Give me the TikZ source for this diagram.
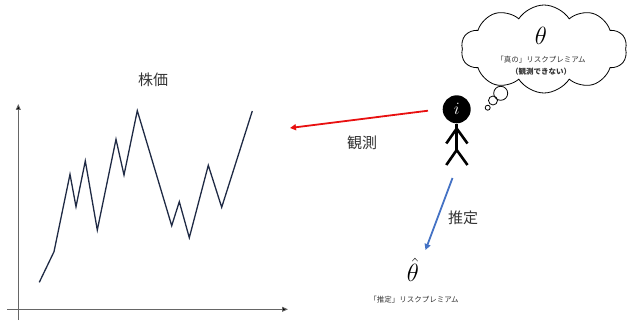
\documentclass[tikz,border=0pt]{standalone}
\usepackage{fontspec}
\newfontfamily\jp{Noto Sans CJK JP}
\usetikzlibrary{arrows.meta,shapes.symbols}
\definecolor{navy}{HTML}{1F2A44}
\definecolor{obsred}{HTML}{E81010}
\definecolor{estblue}{HTML}{4472C4}
\tikzset{
  axis/.style={draw=black!60, line width=0.9pt, -{Triangle[length=6pt,width=5pt,fill=black]}},
  price/.style={draw=navy, line width=1.3pt, line join=miter},
  label/.style={font=\jp\fontsize{15}{15}\selectfont, text=black!80, inner sep=0pt},
  small/.style={font=\jp\fontsize{7.5}{8}\selectfont, text=black!80, inner sep=0pt},
  limb/.style={line width=2.6pt, line cap=butt},
  bubble/.style={circle, draw, line width=0.8pt, inner sep=0pt},
}
\begin{document}
\begin{tikzpicture}[x=1pt,y=-1pt]
\useasboundingbox (0,0) rectangle (627,321);

% axes
\coordinate (yo) at (18.3,320);
\coordinate (yt) at (18.3,104);
\coordinate (xo) at (7,309.3);
\coordinate (xt) at (288,309.3);
\draw[axis] (yo) -- (yt);
\draw[axis] (xo) -- (xt);

% price path
\draw[price] (39.3,282.3) -- (54,251.7) -- (70,174.3) -- (76,206.7) -- (85.3,161)
  -- (97.3,230) -- (116,139.3) -- (124,175) -- (137.3,110.7) -- (171.7,225.7)
  -- (179.3,201.7) -- (189.3,237.7) -- (208.3,165.3) -- (221.7,207.3) -- (252.3,111);
\node[label] (kabuka) at (153,80) {株価};

% observer
\node[circle, fill=black, minimum size=28pt, inner sep=0pt, text=white,
      font=\fontsize{16}{16}\selectfont] (head) at (456.7,109.3) {$i$};
\coordinate (hip) at (456.7,150);
\coordinate (lhand) at (446.3,143.5);
\coordinate (rhand) at (467.5,143.5);
\coordinate (lfoot) at (446.3,165);
\coordinate (rfoot) at (467.5,165);
\coordinate (shoulder) at (456.7,128.5);
\draw[limb] (head.south) -- (hip);
\draw[limb, line join=miter] (lhand) -- (shoulder) -- (rhand);
\draw[limb, line join=miter] (lfoot) -- (hip) -- (rfoot);

% observation arrow
\coordinate (obsstart) at (428,110.7);
\coordinate (obsend) at (290,128);
\draw[obsred, line width=1.8pt, -{Triangle[length=6pt,width=6pt]}] (obsstart) -- (obsend);
\node[label] (kansoku) at (362,143) {観測};

% estimation arrow
\coordinate (eststart) at (452.5,178);
\coordinate (estend) at (425.5,250);
\draw[estblue, line width=1.8pt, -{Triangle[length=6pt,width=6pt]}] (eststart) -- (estend);
\node[label] (suitei) at (463,218) {推定};

% estimate
\node[inner sep=0pt, font=\fontsize{26}{26}\selectfont] (thetahat) at (413,270) {$\hat{\theta}$};
\node[small] (esttext) at (414,300) {「推定」リスクプレミアム};

% thought cloud
\node[cloud, draw, line width=0.8pt, cloud puffs=10, cloud puff arc=115, aspect=1.9,
      minimum width=166pt, minimum height=88pt, inner sep=0pt] (cloud) at (544,49) {};
\node[inner sep=0pt, font=\fontsize{27}{27}\selectfont] (theta) at (541,36) {$\theta$};
\node[small] (truetext) at (541,60) {「真の」リスクプレミアム};
\node[small, font=\jp\bfseries\fontsize{7.5}{8}\selectfont] (unobs) at (541,72) {（観測できない）};
\node[bubble, minimum size=14pt] (b1) at (500.7,93.3) {};
\node[bubble, minimum size=9pt] (b2) at (493,100.5) {};
\node[bubble, minimum size=5pt] (b3) at (487.7,107.7) {};
\end{tikzpicture}
\end{document}
